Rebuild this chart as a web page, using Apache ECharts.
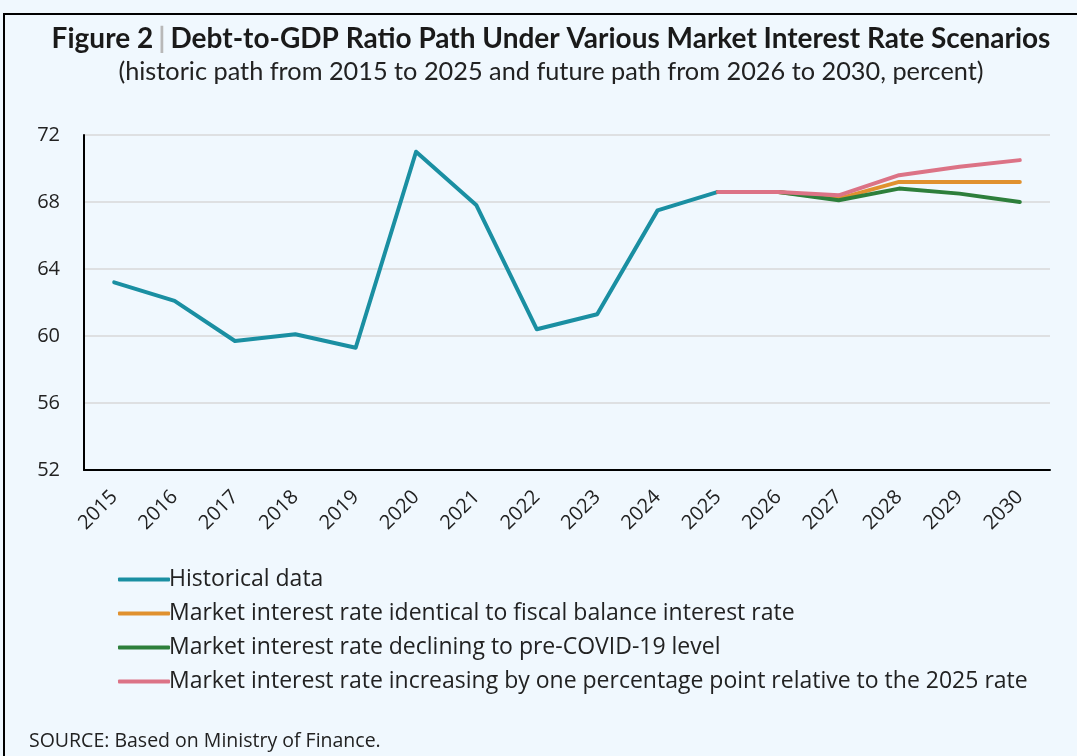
<!DOCTYPE html>
<html>
<head>
<meta charset="utf-8">
<title>Debt-to-GDP Ratio Path</title>
<script src="https://cdn.jsdelivr.net/npm/echarts@6/dist/echarts.min.js"></script>
<style>
  html, body { margin: 0; padding: 0; background: #F0F8FE; }
  #chart { width: 1077px; height: 756px; }
</style>
</head>
<body>
<div id="chart"></div>
<script>
// Years on the category axis
const years = ['2015','2016','2017','2018','2019','2020','2021','2022','2023','2024','2025','2026','2027','2028','2029','2030'];

// Debt-to-GDP ratio, percent
const historical = [63.2, 62.1, 59.7, 60.1, 59.3, 71.0, 67.8, 60.4, 61.3, 67.5, 68.6, null, null, null, null, null];
const identicalRate = [null, null, null, null, null, null, null, null, null, null, 68.6, 68.6, 68.2, 69.2, 69.2, 69.2];
const decliningRate = [null, null, null, null, null, null, null, null, null, null, 68.6, 68.6, 68.1, 68.8, 68.5, 68.0];
const increasingRate = [null, null, null, null, null, null, null, null, null, null, 68.6, 68.6, 68.4, 69.6, 70.1, 70.5];

const yTicks = { min: 52, max: 72, interval: 4 };

const seriesNames = [
  'Historical data',
  'Market interest rate identical to fiscal balance interest rate',
  'Market interest rate declining to pre-COVID-19 level',
  'Market interest rate increasing by one percentage point relative to the 2025 rate'
];
const seriesColors = ['#1A8FA2', '#E0912F', '#2D7F3B', '#DC7386'];
const seriesData = [historical, identicalRate, decliningRate, increasingRate];

const TITLE_FONT = 'Lato, "Noto Sans", sans-serif';
const FONT = '"Open Sans", "Noto Sans", sans-serif';

const chart = echarts.init(document.getElementById('chart'), null, { renderer: 'canvas' });

chart.setOption({
  backgroundColor: '#F0F8FE',
  animation: false,
  title: {
    left: 546,
    top: 20,
    textAlign: 'center',
    text: '{b|Figure 2} {sep||} {b|Debt-to-GDP Ratio Path Under Various Market Interest Rate Scenarios}',
    subtext: '(historic path from 2015 to 2025 and future path from 2026 to 2030, percent)',
    itemGap: 6,
    textStyle: {
      rich: {
        b: { fontFamily: TITLE_FONT, fontSize: 28, fontWeight: 'bold', color: '#1a1a1a' },
        sep: { fontFamily: TITLE_FONT, fontSize: 28, color: '#B8B8B8' }
      }
    },
    subtextStyle: { fontFamily: TITLE_FONT, fontSize: 25.3, color: '#222' }
  },
  grid: { left: 84, right: 27, top: 135, bottom: 286, containLabel: false },
  legend: {
    orient: 'vertical',
    left: 113,
    top: 563,
    itemWidth: 52,
    itemHeight: 4,
    itemGap: 11,
    icon: 'roundRect',
    textStyle: { fontFamily: FONT, fontSize: 23, color: '#222', padding: [0, 0, 0, -6] },
    data: seriesNames
  },
  xAxis: {
    type: 'category',
    data: years,
    boundaryGap: true,
    axisLine: { lineStyle: { color: '#000', width: 2 } },
    axisTick: { show: false },
    axisLabel: { rotate: 45, fontFamily: FONT, fontSize: 20, color: '#222', margin: 24 }
  },
  yAxis: {
    type: 'value',
    min: yTicks.min,
    max: yTicks.max,
    interval: yTicks.interval,
    axisLine: { show: true, lineStyle: { color: '#000', width: 2 } },
    axisTick: { show: false },
    axisLabel: { fontFamily: FONT, fontSize: 20, color: '#222', margin: 24 },
    splitLine: { lineStyle: { color: '#D9D9D9', width: 1.5 } }
  },
  series: seriesNames.map((name, i) => ({
    name: name,
    type: 'line',
    data: seriesData[i],
    showSymbol: false,
    symbol: 'none',
    color: seriesColors[i],
    lineStyle: { width: 4, color: seriesColors[i], cap: 'round', join: 'round' },
    z: 2 + i
  })),
  graphic: [
    {
      type: 'rect',
      shape: { x: 4, y: 14, width: 1100, height: 760 },
      style: { fill: 'none', stroke: '#000', lineWidth: 2 },
      silent: true
    },
    {
      type: 'text',
      left: 29,
      top: 731,
      style: { text: 'SOURCE: Based on Ministry of Finance.', fontFamily: FONT, fontSize: 19.5, fill: '#222' }
    }
  ]
});
</script>
</body>
</html>
